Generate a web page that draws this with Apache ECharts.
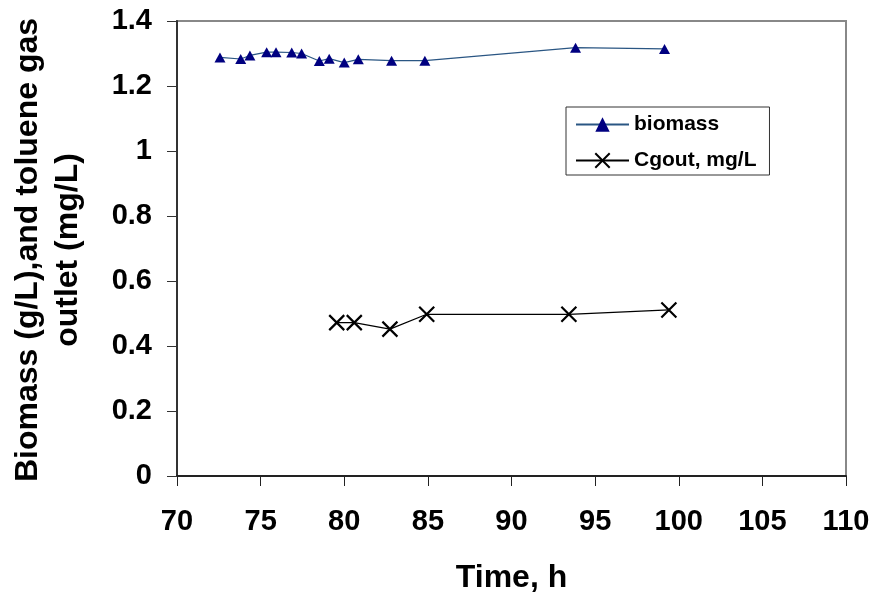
<!DOCTYPE html>
<html>
<head>
<meta charset="utf-8">
<script src="https://cdn.jsdelivr.net/npm/echarts@6/dist/echarts.min.js"></script>
<style>
  html, body { margin: 0; padding: 0; background: #fff; }
  #chart { width: 877px; height: 600px; }
</style>
</head>
<body>
<div id="chart"></div>
<script>
// Time (h) and biomass concentration (g/L)
const biomassTime = [72.57, 73.81, 74.36, 75.36, 75.92, 76.86, 77.45, 78.51, 79.10, 80.00, 80.84, 82.83, 84.82, 93.83, 99.15];
const biomassValue = [1.288, 1.283, 1.294, 1.304, 1.304, 1.303, 1.300, 1.277, 1.284, 1.272, 1.282, 1.278, 1.278, 1.318, 1.314];

// Time (h) and toluene gas outlet concentration (mg/L)
const cgoutTime = [79.55, 80.60, 82.73, 84.93, 93.43, 99.41];
const cgoutValue = [0.472, 0.472, 0.452, 0.4975, 0.4975, 0.511];

const seriesNames = ['biomass', 'Cgout, mg/L'];
const xTitle = 'Time, h';
const yTitle = 'Biomass (g/L),and toluene gas\noutlet (mg/L)';

const pairs = (xs, ys) => xs.map((x, i) => [x, ys[i]]);
const fontFamily = 'Liberation Sans, Arial, sans-serif';
const crossPath = 'path://M0,0L10,10M10,0L0,10';

const chart = echarts.init(document.getElementById('chart'), null, { renderer: 'canvas' });
chart.setOption({
  animation: false,
  backgroundColor: '#fff',
  grid: {
    left: 177, top: 21, right: 31, bottom: 124,
    show: true, borderColor: '#888', borderWidth: 2, backgroundColor: 'transparent'
  },
  legend: {
    orient: 'vertical',
    left: 566, top: 107,
    padding: [7, 13, 4, 9],
    itemWidth: 53, itemHeight: 18, itemGap: 15,
    borderColor: '#333', borderWidth: 1,
    textStyle: { fontFamily, fontWeight: 'bold', fontSize: 21, color: '#000' },
    data: seriesNames
  },
  xAxis: {
    type: 'value', min: 70, max: 110, interval: 5,
    name: xTitle, nameLocation: 'middle', nameGap: 86,
    nameTextStyle: { fontFamily, fontWeight: 'bold', fontSize: 32, color: '#000' },
    axisLine: { onZero: false, lineStyle: { color: '#222', width: 2 } },
    axisTick: { inside: false, length: 10, lineStyle: { color: '#222', width: 1 } },
    axisLabel: { margin: 31, fontFamily, fontWeight: 'bold', fontSize: 29, color: '#000' },
    splitLine: { show: false }
  },
  yAxis: {
    type: 'value', min: 0, max: 1.4, interval: 0.2,
    axisLine: { onZero: false, lineStyle: { color: '#333', width: 2 } },
    axisTick: { inside: false, length: 10, lineStyle: { color: '#333', width: 1 } },
    axisLabel: {
      margin: 25, fontFamily, fontWeight: 'bold', fontSize: 29, color: '#000',
      formatter: v => String(Math.round(v * 10) / 10)
    },
    splitLine: { show: false }
  },
  graphic: [{
    type: 'text',
    x: 48, y: 250,
    rotation: Math.PI / 2,
    style: {
      text: yTitle,
      font: 'bold 32px ' + fontFamily,
      fill: '#000',
      textAlign: 'center',
      textVerticalAlign: 'middle',
      lineHeight: 40
    }
  }],
  series: [
    {
      name: seriesNames[0],
      type: 'line',
      data: pairs(biomassTime, biomassValue),
      symbol: 'triangle',
      symbolSize: [11, 10],
      itemStyle: { color: '#000080' },
      lineStyle: { color: '#2a5683', width: 1.2 }
    },
    {
      name: seriesNames[1],
      type: 'line',
      data: pairs(cgoutTime, cgoutValue),
      symbol: crossPath,
      symbolSize: 15,
      itemStyle: { color: 'transparent', borderColor: '#000', borderWidth: 2.2 },
      lineStyle: { color: '#000', width: 1.2 }
    }
  ]
});
</script>
</body>
</html>
